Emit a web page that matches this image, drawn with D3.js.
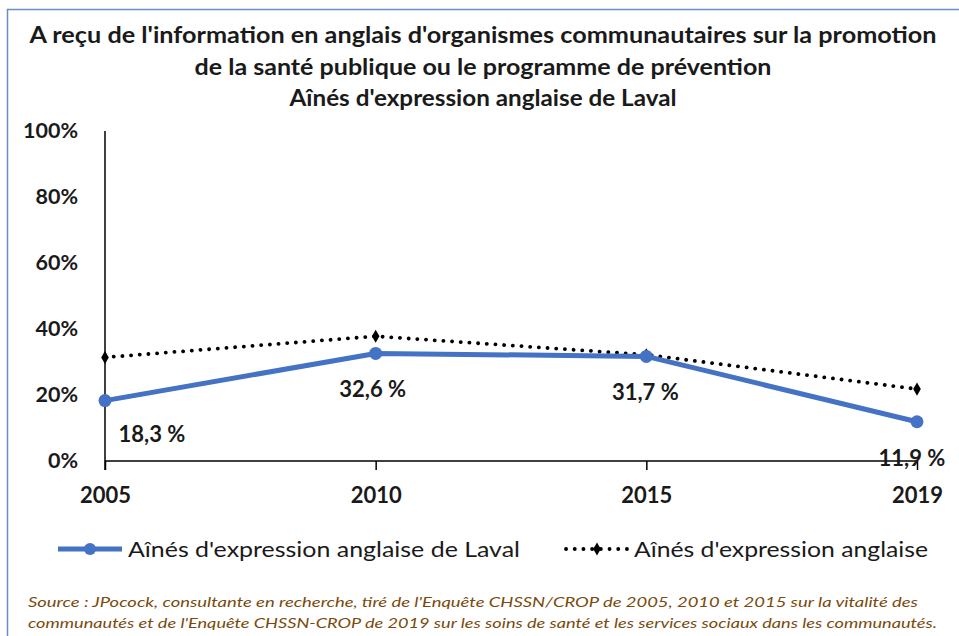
<!DOCTYPE html>
<html>
<head>
<meta charset="utf-8">
<script src="https://cdn.jsdelivr.net/npm/d3@7"></script>
<style>
  html, body { margin: 0; padding: 0; background: #fff; }
  svg { display: block; font-family: Lato, "Open Sans", sans-serif; }
</style>
</head>
<body>
<svg id="chart" width="959" height="636"></svg>
<script>
// Survey years and shares (%) of seniors who received English-language info
const years = ["2005", "2010", "2015", "2019"];
const lavalValues = [18.3, 32.6, 31.7, 11.9];
const allValues = [31.4, 37.8, 32.2, 21.8];
const yTicks = [0, 20, 40, 60, 80, 100];
const valueLabels = ["18,3 %", "32,6 %", "31,7 %", "11,9 %"];

const titleLines = [
  "A reçu de l'information  en anglais d'organismes communautaires sur la promotion",
  "de la santé publique ou le programme de prévention",
  "Aînés d'expression anglaise de Laval"
];
const titleWidths = [907, 577, 387];
const seriesNames = ["Aînés d'expression anglaise de Laval", "Aînés d'expression anglaise"];
const sourceLines = [
  "Source : JPocock, consultante en recherche, tiré de l'Enquête CHSSN/CROP de 2005, 2010 et 2015 sur la vitalité des",
  "communautés et de l'Enquête CHSSN-CROP de 2019 sur les soins de santé et les services sociaux dans les communautés."
];
const sourceWidths = [890, 909];

const svg = d3.select("#chart");
const blue = "#4472c4";
const ink = "#1a1a1a";

// frame around the chart block
svg.append("rect")
  .attr("x", 7.5).attr("y", 9.5)
  .attr("width", 1000).attr("height", 1000)
  .attr("fill", "none").attr("stroke", "#6d8cc4").attr("stroke-width", 1.5);

// title
svg.append("g").selectAll("text").data(titleLines).join("text")
  .attr("x", 483)
  .attr("y", (d, i) => 43 + i * 31.5)
  .attr("text-anchor", "middle")
  .attr("font-size", 22).attr("font-weight", 700).attr("fill", ink)
  .attr("textLength", (d, i) => titleWidths[i]).attr("lengthAdjust", "spacingAndGlyphs")
  .text(d => d);

const x = d3.scalePoint().domain(years).range([105, 917]);
const y = d3.scaleLinear().domain([0, 100]).range([461, 131]);

// y axis
const yAxis = svg.append("g").attr("transform", "translate(105,0)")
  .call(d3.axisLeft(y).tickValues(yTicks).tickSize(0).tickPadding(27).tickFormat(d => d + "%"));
yAxis.select(".domain").attr("stroke", "#000").attr("stroke-width", 1.5)
  .attr("d", `M0,${y(100)}V${y(0) + 9}`);
yAxis.selectAll("text").attr("font-family", "Lato, sans-serif")
  .attr("font-size", 21.5).attr("font-weight", 700).attr("fill", ink);

// x axis
const xAxis = svg.append("g").attr("transform", `translate(0,${y(0)})`)
  .call(d3.axisBottom(x).tickSize(9).tickPadding(17));
xAxis.select(".domain").attr("stroke", "#000").attr("stroke-width", 1.5)
  .attr("d", `M${x("2005")},0H${x("2019")}`);
xAxis.selectAll(".tick line").attr("stroke", "#000").attr("stroke-width", 1.5);
xAxis.selectAll("text").attr("font-family", "Lato, sans-serif")
  .attr("font-size", 22).attr("font-weight", 700).attr("fill", ink);

const line = d3.line().x((d, i) => x(years[i])).y(d => y(d));

// dotted series (all English-speaking seniors)
svg.append("path").datum(allValues)
  .attr("d", line).attr("fill", "none")
  .attr("stroke", "#000").attr("stroke-width", 3.8)
  .attr("stroke-dasharray", "0.1 8.6").attr("stroke-linecap", "round");
const diamond = d3.symbol().type(d3.symbolDiamond).size(50);
svg.append("g").selectAll("path").data(allValues).join("path")
  .attr("transform", (d, i) => `translate(${x(years[i])},${y(d)})`)
  .attr("d", diamond).attr("fill", "#000");

// Laval series
svg.append("path").datum(lavalValues)
  .attr("d", line).attr("fill", "none")
  .attr("stroke", blue).attr("stroke-width", 5).attr("stroke-linejoin", "round");
svg.append("g").selectAll("circle").data(lavalValues).join("circle")
  .attr("cx", (d, i) => x(years[i])).attr("cy", d => y(d))
  .attr("r", 6.5).attr("fill", blue);

// value labels under the Laval points
const labelDx = [47, -3, -1, -5];
svg.append("g").selectAll("text").data(lavalValues).join("text")
  .attr("x", (d, i) => x(years[i]) + labelDx[i])
  .attr("y", (d, i) => y(d) + (i === 0 ? 41 : 44))
  .attr("text-anchor", "middle")
  .attr("font-size", 22).attr("font-weight", 700).attr("fill", ink)
  .text((d, i) => valueLabels[i]);

// legend
const legend = svg.append("g");
legend.append("line").attr("x1", 58).attr("x2", 122).attr("y1", 549).attr("y2", 549)
  .attr("stroke", blue).attr("stroke-width", 5);
legend.append("circle").attr("cx", 90).attr("cy", 549).attr("r", 6).attr("fill", blue);
legend.append("text").attr("x", 128).attr("y", 557)
  .attr("font-size", 22).attr("fill", ink)
  .attr("textLength", 392).attr("lengthAdjust", "spacingAndGlyphs")
  .text(seriesNames[0]);
legend.append("line").attr("x1", 566).attr("x2", 628).attr("y1", 549).attr("y2", 549)
  .attr("stroke", "#000").attr("stroke-width", 3.8)
  .attr("stroke-dasharray", "0.1 8.6").attr("stroke-linecap", "round");
legend.append("path").attr("transform", "translate(597,549)").attr("d", diamond).attr("fill", "#000");
legend.append("text").attr("x", 634).attr("y", 557)
  .attr("font-size", 22).attr("fill", ink)
  .attr("textLength", 294).attr("lengthAdjust", "spacingAndGlyphs")
  .text(seriesNames[1]);

// source note
svg.append("g").selectAll("text").data(sourceLines).join("text")
  .attr("x", 28).attr("y", (d, i) => 607 + i * 21)
  .attr("font-size", 14).attr("font-style", "italic").attr("fill", "#7a4a0c")
  .attr("textLength", (d, i) => sourceWidths[i]).attr("lengthAdjust", "spacingAndGlyphs")
  .text(d => d);
</script>
</body>
</html>
